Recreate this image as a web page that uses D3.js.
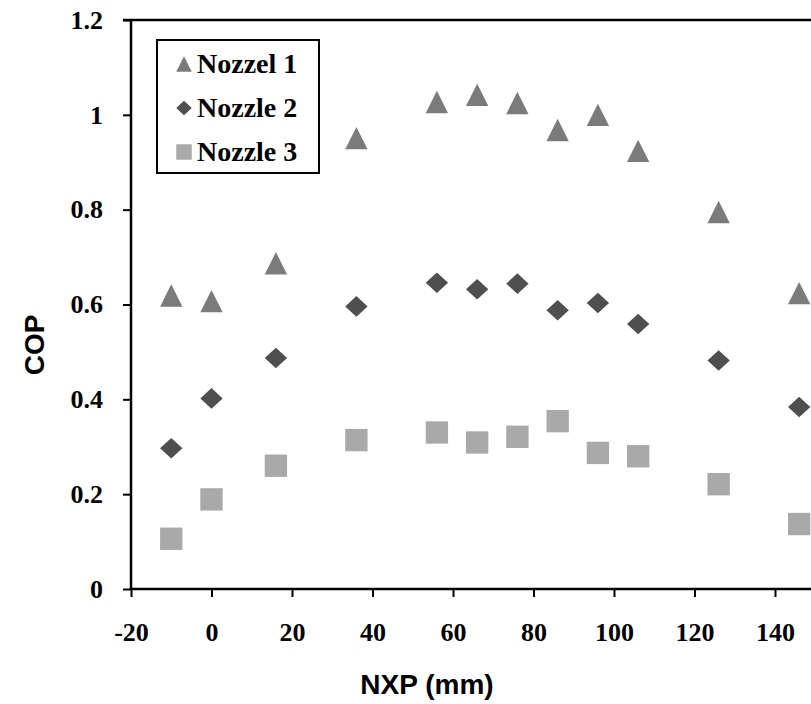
<!DOCTYPE html>
<html>
<head>
<meta charset="utf-8">
<script src="https://cdn.jsdelivr.net/npm/d3@7"></script>
<style>
  body { margin: 0; background: #fff; overflow: hidden; }
  svg { display: block; }
</style>
</head>
<body>
<svg id="chart"></svg>
<script>
// values
const nxp = [-10, 0, 16, 36, 56, 66, 76, 86, 96, 106, 126, 146];
const nozzle1 = [0.619, 0.607, 0.687, 0.951, 1.027, 1.042, 1.025, 0.968, 1.0, 0.924, 0.795, 0.624];
const nozzle2 = [0.297, 0.402, 0.487, 0.596, 0.646, 0.632, 0.644, 0.588, 0.603, 0.559, 0.482, 0.384];
const nozzle3 = [0.106, 0.189, 0.260, 0.314, 0.330, 0.309, 0.321, 0.354, 0.287, 0.280, 0.221, 0.137];
const seriesNames = ["Nozzel 1", "Nozzle 2", "Nozzle 3"];
const xTicks = [-20, 0, 20, 40, 60, 80, 100, 120, 140];
const yTicks = [0, 0.2, 0.4, 0.6, 0.8, 1, 1.2];

const svgWidth = 811, svgHeight = 704;
const margin = { top: 20, left: 131 };
const width = 724.5;   // plot runs past the right edge, as in the picture
const height = 569;

const svg = d3.select("#chart")
    .attr("width", svgWidth)
    .attr("height", svgHeight);

const g = svg.append("g")
    .attr("transform", "translate(" + margin.left + "," + margin.top + ")");

const x = d3.scaleLinear().domain([-20, 160]).range([0, width]);
const y = d3.scaleLinear().domain([0, 1.2]).range([height, 0]);

// triangle centred on its bounding box, like spreadsheet markers
const triangle = {
    draw(ctx, size) {
        const s = Math.sqrt(size);
        ctx.moveTo(0, -s / 2);
        ctx.lineTo(s / 2, s / 2);
        ctx.lineTo(-s / 2, s / 2);
        ctx.closePath();
    }
};
const diamond = {
    draw(ctx, size) {
        const s = Math.sqrt(size);
        ctx.moveTo(0, -s * 0.46);
        ctx.lineTo(s / 2, 0);
        ctx.lineTo(0, s * 0.46);
        ctx.lineTo(-s / 2, 0);
        ctx.closePath();
    }
};
const square = {
    draw(ctx, size) {
        const s = Math.sqrt(size);
        ctx.rect(-s / 2, -s / 2, s, s);
    }
};

const series = [
    { name: seriesNames[0], values: nozzle1, shape: triangle, color: "#7b7b7b" },
    { name: seriesNames[1], values: nozzle2, shape: diamond, color: "#4f4f4f" },
    { name: seriesNames[2], values: nozzle3, shape: square, color: "#a9a9a9" }
];

// top border of plot area
g.append("line")
    .attr("x1", -8).attr("x2", width)
    .attr("y1", 0).attr("y2", 0)
    .attr("stroke", "#000")
    .attr("stroke-width", 2.5);

const xAxis = g.append("g")
    .attr("transform", "translate(0," + height + ")")
    .call(d3.axisBottom(x).tickValues(xTicks).tickSize(8).tickPadding(26).tickFormat(d => String(d)));

const yAxis = g.append("g")
    .call(d3.axisLeft(y).tickValues(yTicks).tickSize(8).tickPadding(20).tickFormat(d => String(d)));

[xAxis, yAxis].forEach(function(ax) {
    ax.select(".domain").attr("stroke-width", 2.5);
    ax.selectAll(".tick line").attr("stroke-width", 2);
    ax.selectAll(".tick text")
        .attr("fill", "#000")
        .style("font-family", "'Liberation Serif', 'Times New Roman', serif")
        .style("font-weight", "bold")
        .style("font-size", "26px");
});
xAxis.select(".domain").attr("d", "M0,0H" + width);
yAxis.select(".domain").attr("d", "M0," + height + "V0");

// axis titles
svg.append("text")
    .attr("x", 427)
    .attr("y", 694)
    .attr("text-anchor", "middle")
    .style("font-family", "'Liberation Sans', Arial, sans-serif")
    .style("font-weight", "bold")
    .style("font-size", "28px")
    .text("NXP (mm)");

svg.append("text")
    .attr("transform", "translate(44,345) rotate(-90)")
    .attr("text-anchor", "middle")
    .style("font-family", "'Liberation Sans', Arial, sans-serif")
    .style("font-weight", "bold")
    .style("font-size", "28px")
    .text("COP");

// markers
series.forEach(function(s) {
    g.selectAll(null)
        .data(s.values.map((v, i) => ({ x: nxp[i], y: v })))
        .enter().append("path")
        .attr("transform", d => "translate(" + x(d.x) + "," + y(d.y) + ")")
        .attr("d", d3.symbol().type(s.shape).size(500))
        .attr("fill", s.color);
});

// legend
const legend = svg.append("g")
    .attr("transform", "translate(157,40)");

legend.append("rect")
    .attr("width", 162)
    .attr("height", 133)
    .attr("fill", "#fff")
    .attr("stroke", "#000")
    .attr("stroke-width", 2);

const item = legend.selectAll(".item")
    .data(series)
    .enter().append("g")
    .attr("class", "item")
    .attr("transform", (d, i) => "translate(0," + (24 + i * 44) + ")");

item.append("path")
    .attr("transform", "translate(27,0)")
    .attr("d", d => d3.symbol().type(d.shape).size(240)())
    .attr("fill", d => d.color);

item.append("text")
    .attr("x", 40)
    .attr("y", 9)
    .style("font-family", "'Liberation Serif', 'Times New Roman', serif")
    .style("font-weight", "bold")
    .style("font-size", "28px")
    .text(d => d.name);
</script>
</body>
</html>
